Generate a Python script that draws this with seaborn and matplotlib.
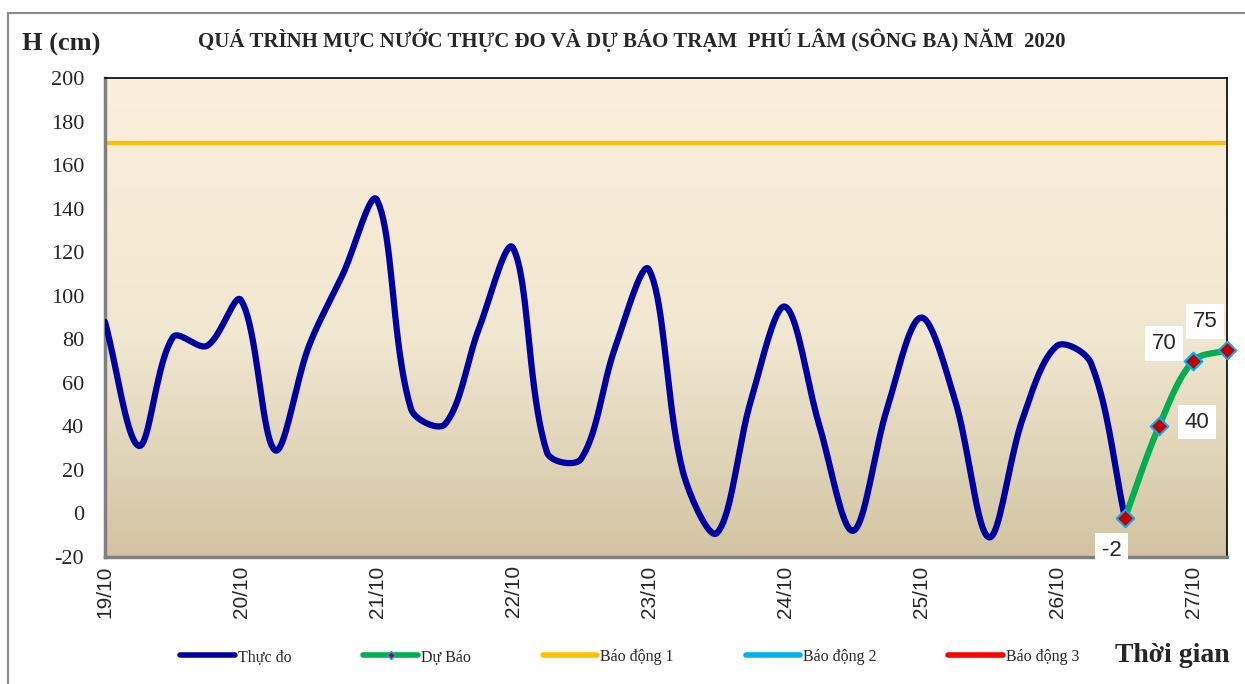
import numpy as np
import pandas as pd
import matplotlib.pyplot as plt
import seaborn as sns
from matplotlib.colors import LinearSegmentedColormap
from matplotlib.lines import Line2D
from matplotlib.patches import Rectangle

# Water level data, 6-hourly from 19/10 00h
measured = [88, 31, 81, 77, 98, 29, 77, 110, 144, 48, 41, 85, 122, 28, 25, 76,
            112, 19, -9, 52, 95, 41, -8, 48, 90, 52, -11, 44, 77, 69, -2]
forecast = [-2, 40, 70, 75]
forecast_start = 30
alarm_1 = 170
day_labels = ['19/10', '20/10', '21/10', '22/10', '23/10', '24/10', '25/10', '26/10', '27/10']
steps_per_day = 4


df_obs = pd.DataFrame({'t': np.arange(len(measured)), 'H': measured})
df_fc = pd.DataFrame({'t': np.arange(forecast_start, forecast_start + len(forecast)), 'H': forecast})


# Excel-style smoothed line: Bezier through the points, tangents weighted
# by segment length on screen (34 px per step, 2.18 px per cm)
def smooth(x, y, n=20, sx=34.0, sy=2.18):
    x = np.asarray(x, float)
    y = np.asarray(y, float)
    px = np.concatenate([[x[0]], x, [x[-1]]])
    py = np.concatenate([[y[0]], y, [y[-1]]])
    d = np.hypot(np.diff(px) * sx, np.diff(py) * sy)
    xs, ys = [], []
    s = np.linspace(0, 1, n, endpoint=False)
    for i in range(1, len(px) - 2):
        d01, d12, d23 = d[i - 1], d[i], d[i + 1]
        w1 = d12 / (d01 + d12) / 3 if d01 + d12 > 0 else 0
        w2 = d12 / (d12 + d23) / 3 if d12 + d23 > 0 else 0
        for arr, out in ((px, xs), (py, ys)):
            p0, p1, p2, p3 = arr[i - 1], arr[i], arr[i + 1], arr[i + 2]
            b1 = p1 + (p2 - p0) * w1
            b2 = p2 - (p3 - p1) * w2
            out.extend((1 - s) ** 3 * p1 + 3 * (1 - s) ** 2 * s * b1 + 3 * (1 - s) * s ** 2 * b2 + s ** 3 * p2)
    xs.append(x[-1])
    ys.append(y[-1])
    return pd.DataFrame({'t': xs, 'H': ys})


sns.set_style('white')
plt.rcParams['font.family'] = ['Liberation Serif', 'DejaVu Serif']

fig = plt.figure(figsize=(12.45, 6.84), dpi=100)
ax = fig.add_axes([105 / 1245, 1 - 557 / 684, 1122 / 1245, 479 / 684])

# Gradient background (light at top, tan at bottom)
cmap = LinearSegmentedColormap.from_list('bg', [(0, '#FCF0DC'), (0.55, '#F0E7D0'), (1, '#D2C4A2')])
grad = np.linspace(0, 1, 256).reshape(-1, 1)
ax.imshow(grad, cmap=cmap, aspect='auto', extent=[0, 33, -20, 200], origin='upper', zorder=0)

ax.axhline(alarm_1, color='#FFC000', lw=3, zorder=2)

sns.lineplot(data=smooth(df_obs['t'], df_obs['H']), x='t', y='H', ax=ax, color='#0000A0',
             lw=4.5, sort=False, estimator=None, zorder=3)
sns.lineplot(data=smooth(df_fc['t'], df_fc['H']), x='t', y='H', ax=ax, color='#00B050',
             lw=4.5, sort=False, estimator=None, zorder=4)
ax.scatter(df_fc['t'], df_fc['H'], marker='D', s=80, color='#C00000', edgecolor='#00B0F0',
           linewidth=1.5, zorder=5, clip_on=False)

# Data labels
offsets = [(-0.4, -10, 'center', 'top'), (0.75, 2, 'left', 'center'),
           (-0.85, 8, 'center', 'center'), (-0.65, 13, 'center', 'center')]
for (t, h), (dx, dy, ha, va) in zip(zip(df_fc['t'], df_fc['H']), offsets):
    ax.text(t + dx, h + dy, f'{h}', ha=ha, va=va, fontsize=16, family=['Liberation Sans'],
            bbox=dict(facecolor='white', edgecolor='none', pad=5), zorder=6, clip_on=False)

ax.set_xlim(0, 33)
ax.set_ylim(-20, 200)
ax.set_yticks(range(-20, 201, 20))
ax.set_yticklabels([str(v) for v in range(-20, 201, 20)], fontsize=16)
ax.set_xticks(range(0, 33 + 1, steps_per_day))
ax.set_xticklabels(day_labels, rotation=90, fontsize=15, family=['Liberation Sans'])
ax.set_xticks(range(0, 34), minor=True)
ax.tick_params(axis='y', which='major', direction='out', length=9, color='#808080', width=1.2, pad=6)
ax.tick_params(axis='x', which='both', direction='in', length=6, color='#808080', width=1.2, pad=6)
ax.set_xlabel('')
ax.set_ylabel('')

for side in ['left', 'bottom']:
    ax.spines[side].set_color('#808080')
    ax.spines[side].set_linewidth(2.5)
for side in ['top', 'right']:
    ax.spines[side].set_color('black')
    ax.spines[side].set_linewidth(1.2)

# Chart frame
fig.patches.append(Rectangle((8 / 1245, -0.01), 1.1, 1 - 13 / 684 + 0.01, transform=fig.transFigure,
                             fill=False, edgecolor='#8C8C8C', lw=1.5))

fig.text(632 / 1245, 1 - 40 / 684,
         'QUÁ TRÌNH MỰC NƯỚC THỰC ĐO VÀ DỰ BÁO TRẠM  PHÚ LÂM (SÔNG BA) NĂM  2020',
         ha='center', va='center', fontsize=15, fontweight='bold')
fig.text(22 / 1245, 1 - 44 / 684, 'H (cm)', ha='left', va='center', fontsize=19, fontweight='bold')
fig.text(1230 / 1245, 1 - 656 / 684, 'Thời gian', ha='right', va='center', fontsize=20, fontweight='bold')

handles = [
    Line2D([], [], color='#0000A0', lw=4),
    Line2D([], [], color='#00B050', lw=4, marker='D', markersize=4,
           markerfacecolor='#C00000', markeredgecolor='#00B0F0'),
    Line2D([], [], color='#FFC000', lw=4),
    Line2D([], [], color='#00B0F0', lw=4),
    Line2D([], [], color='#FF0000', lw=4),
]
labels = ['Thực đo', 'Dự Báo', 'Báo động 1', 'Báo động 2', 'Báo động 3']
fig.legend(handles, labels, loc='center left', bbox_to_anchor=(166 / 1245, 1 - 657 / 684), ncol=5,
           frameon=False, fontsize=11.5, handlelength=3.4, handletextpad=0.2, columnspacing=4.5)

fig.savefig('out.png', dpi=100)
